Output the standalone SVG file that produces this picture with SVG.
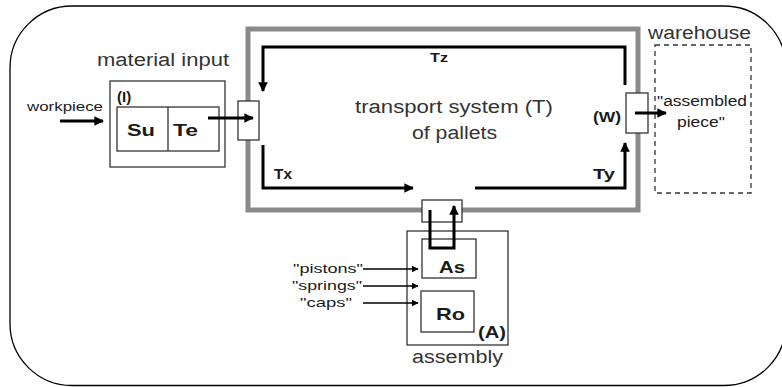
<svg xmlns="http://www.w3.org/2000/svg" width="782" height="387" viewBox="0 0 782 387">
<defs>
<marker id="ah" viewBox="0 0 10 10" refX="9" refY="5" markerWidth="3.2" markerHeight="3.2" orient="auto" markerUnits="strokeWidth"><path d="M0,0 L10,5 L0,10 z" fill="#000"/></marker>
<marker id="ahs" viewBox="0 0 10 10" refX="9" refY="5" markerWidth="5.5" markerHeight="5.5" orient="auto" markerUnits="strokeWidth"><path d="M0,0 L10,5 L0,10 z" fill="#000"/></marker>
</defs>
<style>
text{font-family:"Liberation Sans",Arial,sans-serif;fill:#1a1a1a}
.box{fill:#fff;stroke:#333;stroke-width:1.3}
.thick{fill:none;stroke:#000;stroke-width:3}
.thin{fill:none;stroke:#000;stroke-width:1.3}
.lbl{font-size:18px;fill:#333}
.b{font-weight:bold}
</style>
<rect width="782" height="387" fill="#fff"/>
<rect x="10" y="6" width="776" height="379.5" rx="62" ry="62" fill="none" stroke="#000" stroke-width="1.3"/>
<g id="transport">
<rect x="248" y="29" width="390" height="181" fill="none" stroke="#8a8a8a" stroke-width="5"/>
<text x="355" y="113" class="lbl" font-size="20" textLength="198" lengthAdjust="spacingAndGlyphs">transport system (T)</text>
<text x="412" y="139" class="lbl" font-size="20" textLength="85" lengthAdjust="spacingAndGlyphs">of pallets</text>
<text x="430" y="62" font-size="13" class="b" textLength="18" lengthAdjust="spacingAndGlyphs">Tz</text>
<text x="274" y="179" font-size="14" class="b" textLength="18" lengthAdjust="spacingAndGlyphs">Tx</text>
<text x="593" y="179" font-size="14" class="b" textLength="22" lengthAdjust="spacingAndGlyphs">Ty</text>
</g>
<text x="27" y="111" font-size="13" textLength="76" lengthAdjust="spacingAndGlyphs">workpiece</text>
<g id="material-input">
<text x="97" y="66" class="lbl" textLength="132" lengthAdjust="spacingAndGlyphs">material input</text>
<rect class="box" x="110" y="81" width="115" height="86"/>
<rect class="box" x="117" y="107" width="102" height="44"/>
<line x1="168" y1="107" x2="168" y2="151" stroke="#333" stroke-width="1.3"/>
<text x="117" y="102" font-size="15" class="b">(I)</text>
<text x="127" y="136" font-size="17" class="b" textLength="28" lengthAdjust="spacingAndGlyphs">Su</text>
<text x="173" y="136" font-size="17" class="b" textLength="25" lengthAdjust="spacingAndGlyphs">Te</text>
</g>
<g id="port-I"><rect class="box" x="238" y="101" width="21" height="39"/></g>
<g id="port-W"><rect class="box" x="626" y="93" width="22" height="40"/>
<text x="593" y="122" font-size="14" class="b" textLength="28" lengthAdjust="spacingAndGlyphs">(W)</text></g>
<g id="port-A"><rect class="box" x="422" y="200" width="40" height="22"/></g>
<g id="warehouse">
<text x="648" y="39" class="lbl" font-size="17" textLength="103" lengthAdjust="spacingAndGlyphs">warehouse</text>
<rect x="655" y="45" width="96" height="148" fill="none" stroke="#333" stroke-width="1.3" stroke-dasharray="5,4"/>
<text x="657" y="106" font-size="14" textLength="90" lengthAdjust="spacingAndGlyphs">"assembled</text>
<text x="677" y="127" font-size="14" textLength="48" lengthAdjust="spacingAndGlyphs">piece"</text>
</g>
<g id="assembly">
<rect class="box" x="407" y="231" width="101" height="114"/>
<rect class="box" x="422" y="239" width="54" height="39"/>
<rect class="box" x="421" y="291" width="53" height="41"/>
<text x="439" y="273" font-size="17" class="b" textLength="26" lengthAdjust="spacingAndGlyphs">As</text>
<text x="436" y="320" font-size="17" class="b" textLength="29" lengthAdjust="spacingAndGlyphs">Ro</text>
<text x="478" y="338" font-size="16" class="b" textLength="28" lengthAdjust="spacingAndGlyphs">(A)</text>
<text x="412" y="363" class="lbl" font-size="17" textLength="91" lengthAdjust="spacingAndGlyphs">assembly</text>
<text x="293" y="273" font-size="13" textLength="70" lengthAdjust="spacingAndGlyphs">"pistons"</text>
<text x="292" y="290" font-size="13" textLength="70" lengthAdjust="spacingAndGlyphs">"springs"</text>
<text x="300" y="307" font-size="13" textLength="52" lengthAdjust="spacingAndGlyphs">"caps"</text>
</g>
<g id="connectors">
<path class="thick" d="M625,85 V47 H263 V91" marker-end="url(#ah)"/>
<path class="thick" d="M263,145 V188 H413" marker-end="url(#ah)"/>
<path class="thick" d="M475,188 H625 V143" marker-end="url(#ah)"/>
<path class="thick" d="M60,121 H103" marker-end="url(#ah)"/>
<path class="thick" d="M208,118 H253" marker-end="url(#ah)"/>
<path class="thick" d="M635,113 H666" marker-end="url(#ah)"/>
<path class="thin" d="M363,269 H418" marker-end="url(#ahs)"/>
<path class="thin" d="M363,286 H418" marker-end="url(#ahs)"/>
<path class="thin" d="M363,303 H418" marker-end="url(#ahs)"/>
<path class="thick" d="M430,210 V248 H454 V206" marker-end="url(#ah)"/>
</g>
</svg>
